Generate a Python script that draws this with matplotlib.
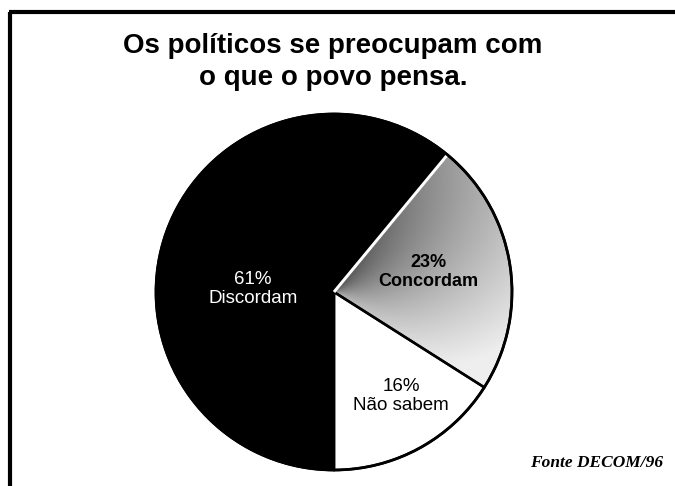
import numpy as np
import matplotlib
matplotlib.use("Agg")
import matplotlib.pyplot as plt

# Survey answers
labels = ["Não sabem", "Concordam", "Discordam"]
shares = [16, 23, 61]

title_lines = ["Os políticos se preocupam com", "o que o povo pensa."]
source = "Fonte DECOM/96"

W, H = 675, 486
fig = plt.figure(figsize=(W / 100, H / 100), dpi=100)
ax = fig.add_axes([0, 0, 1, 1])

cx, cy, r = 334, H - 292, 178

wedges, _ = ax.pie(
    shares,
    startangle=-90,
    counterclock=True,
    colors=["white", "#9a9a9a", "black"],
    center=(cx, cy),
    radius=r,
    wedgeprops=dict(edgecolor="black", linewidth=1.8),
)

# Shaded fill for the "Concordam" slice: dark near the black slice, light at the rim
gray = wedges[1]
gray.set_facecolor("none")
xs = np.linspace(cx, cx + r, 200)
ys = np.linspace(cy - r, cy + r, 200)
X, Y = np.meshgrid(xs, ys)
ang = np.degrees(np.arctan2(Y - cy, X - cx))
t1, t2 = gray.theta1, gray.theta2
frac = np.clip((t2 - ang) / (t2 - t1), 0, 1)
rad = np.clip(np.hypot(X - cx, Y - cy) / r, 0, 1)
shade = 0.30 + 0.40 * frac + 0.30 * rad
shade = np.clip(shade, 0, 0.93)
img = ax.imshow(shade, cmap="gray", vmin=0, vmax=1, origin="lower",
                extent=(cx, cx + r, cy - r, cy + r), zorder=0.9,
                interpolation="bilinear")
img.set_clip_path(gray)
gray.set_zorder(1.5)

# white separation between black and shaded slices
th = np.radians(gray.theta2)
ax.plot([cx, cx + r * np.cos(th)], [cy, cy + r * np.sin(th)],
        color="white", lw=2.2, zorder=2, solid_capstyle="butt")
# outer rim
rim = plt.Circle((cx, cy), r, fill=False, edgecolor="black", lw=2, zorder=3)
ax.add_patch(rim)

ax.set_xlim(0, W)
ax.set_ylim(0, H)
ax.set_aspect("auto")
ax.axis("off")

font = "Liberation Sans"
txt = lambda v, name: f"{v}%\n{name}"
ax.text(253, H - 289, txt(shares[2], labels[2]), color="white", ha="center",
        va="center", fontsize=13.5, family=font, linespacing=1.2, zorder=4)
ax.text(428, H - 272, txt(shares[1], labels[1]), color="black", ha="center",
        va="center", fontsize=13, family=font, fontweight="bold",
        linespacing=1.2, zorder=4)
ax.text(401, H - 396, txt(shares[0], labels[0]), color="black", ha="center",
        va="center", fontsize=13.5, family=font, linespacing=1.2, zorder=4)

ax.text(333, H - 53, title_lines[0], ha="center", va="baseline", fontsize=20,
        family=font, fontweight="bold")
ax.text(333, H - 85, title_lines[1], ha="center", va="baseline", fontsize=20,
        family=font, fontweight="bold")

ax.text(663, H - 463, source, ha="right", va="center", fontsize=12.5,
        family="Liberation Serif", fontweight="bold", fontstyle="italic")

# frame: top and left edges
ax.plot([9, W], [H - 12, H - 12], color="black", lw=3, solid_capstyle="butt")
ax.plot([9.5, 9.5], [0, H - 12], color="black", lw=3, solid_capstyle="butt")

fig.savefig("out.png", dpi=100)
